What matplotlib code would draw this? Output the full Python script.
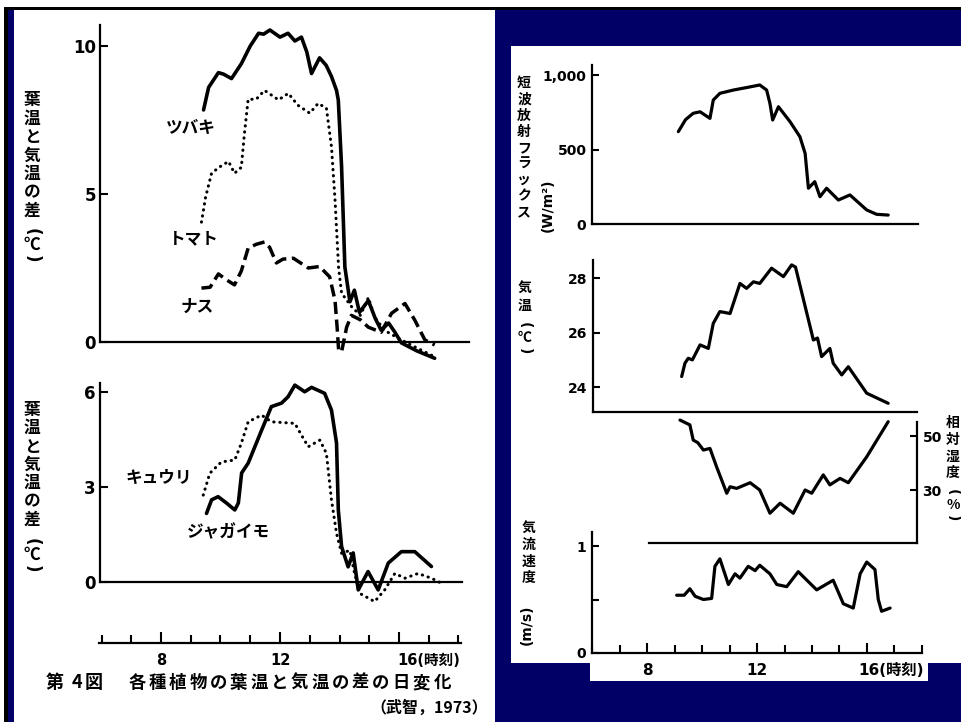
import matplotlib
matplotlib.use('Agg')
import matplotlib.pyplot as plt
from matplotlib.patches import Rectangle
from matplotlib.ticker import FixedLocator

plt.rcParams['font.family'] = ['DejaVu Sans', 'Noto Sans CJK JP']

# ---------------- data ----------------
# Left top: leaf minus air temperature (deg C)
tsubaki_t = [9.43, 9.6, 9.93, 10.1, 10.37, 10.7, 11.0, 11.28, 11.45, 11.66, 12.0, 12.27, 12.5, 12.72,
             12.9, 13.06, 13.33, 13.55, 13.73, 13.9, 13.96, 14.07, 14.18, 14.35, 14.5, 14.67, 14.97,
             15.2, 15.4, 15.65, 15.85, 16.08, 16.6, 17.2]
tsubaki_v = [7.84, 8.6, 9.1, 9.05, 8.9, 9.4, 10.0, 10.43, 10.4, 10.54, 10.3, 10.43, 10.17, 10.3,
             9.8, 9.07, 9.6, 9.35, 8.97, 8.5, 8.17, 5.92, 2.54, 1.36, 1.75, 1.0, 1.4,
             0.8, 0.4, 0.64, 0.35, -0.03, -0.3, -0.55]
tomato_t = [9.36, 9.5, 9.7, 9.95, 10.27, 10.47, 10.7, 10.8, 10.93, 11.2, 11.48, 11.95, 12.28, 12.6,
            13.0, 13.28, 13.56, 13.73, 13.85, 13.97, 14.07, 14.4, 14.7, 14.97, 15.18, 15.5, 16.08,
            16.6, 17.2]
tomato_v = [4.05, 4.9, 5.7, 5.9, 6.1, 5.7, 5.9, 7.0, 8.2, 8.2, 8.5, 8.18, 8.4, 8.0,
            7.73, 8.06, 7.9, 6.6, 4.8, 2.5, 1.65, 1.2, 0.9, 1.5, 0.85, 0.4, 0.07,
            -0.2, -0.5]
nasu_t = [9.36, 9.65, 9.93, 10.2, 10.47, 10.7, 10.93, 11.2, 11.48, 11.65, 11.88, 12.1, 12.45, 12.95,
          13.33, 13.67, 13.85, 13.92, 13.97, 14.07, 14.24, 14.4, 14.7, 14.97, 15.4, 15.75, 16.2,
          16.53, 16.87, 17.2]
nasu_v = [1.82, 1.85, 2.3, 2.1, 1.93, 2.4, 3.17, 3.3, 3.38, 3.2, 2.67, 2.8, 2.83, 2.5,
          2.55, 2.2, 1.4, 0.5, -0.27, -0.33, 0.5, 0.9, 0.75, 0.5, 0.33, 0.97, 1.3,
          0.74, 0.07, -0.1]
top_ticks = [0, 5, 10]

# Left bottom
jaga_t = [9.53, 9.7, 9.92, 10.2, 10.48, 10.6, 10.71, 10.93, 11.38, 11.71, 12.05, 12.27, 12.5, 12.83,
          13.06, 13.5, 13.73, 13.9, 13.96, 14.07, 14.29, 14.46, 14.63, 14.96, 15.3, 15.64, 16.08,
          16.53, 17.09]
jaga_v = [2.17, 2.6, 2.7, 2.5, 2.28, 2.5, 3.45, 3.76, 4.8, 5.55, 5.66, 5.86, 6.23, 6.02,
          6.16, 5.97, 5.44, 4.4, 2.28, 1.12, 0.48, 0.92, -0.25, 0.33, -0.25, 0.6, 0.96,
          0.96, 0.49]
kyuri_t = [9.42, 9.64, 10.03, 10.48, 10.7, 10.93, 11.38, 11.71, 12.5, 12.72, 12.95, 13.34, 13.56,
           13.73, 13.9, 14.07, 14.35, 14.5, 14.68, 15.18, 15.52, 15.86, 16.2, 16.64, 17.09, 17.43]
kyuri_v = [2.75, 3.44, 3.8, 3.86, 4.39, 5.07, 5.28, 5.07, 5.02, 4.65, 4.28, 4.49, 4.07,
           2.6, 1.54, 0.91, 1.0, 0.3, -0.36, -0.62, -0.25, 0.27, 0.12, 0.27, 0.12, -0.04]
bot_ticks = [0, 3, 6]

# Right: shortwave radiation flux (W/m2)
rad_t = [9.14, 9.4, 9.68, 9.93, 10.29, 10.41, 10.65, 11.14, 11.6, 12.1, 12.35, 12.47, 12.57, 12.78,
         13.2, 13.56, 13.75, 13.87, 14.1, 14.29, 14.53, 14.96, 15.38, 15.99, 16.35, 16.77]
rad_v = [620, 700, 743, 753, 709, 832, 877, 899, 915, 933, 899, 810, 698, 787,
         687, 586, 474, 240, 284, 183, 240, 161, 195, 94, 65, 60]
rad_ticks = [0, 500, 1000]
rad_labels = ['0', '500', '1,000']

# Right: air temperature (deg C)
temp_t = [9.26, 9.38, 9.5, 9.65, 9.93, 10.23, 10.41, 10.65, 11.02, 11.38, 11.62, 11.87, 12.1, 12.53,
          12.96, 13.26, 13.4, 14.05, 14.2, 14.35, 14.65, 14.77, 15.08, 15.32, 15.99, 16.77]
temp_v = [24.39, 24.88, 25.06, 25.0, 25.55, 25.42, 26.34, 26.77, 26.7, 27.8, 27.62, 27.86, 27.8, 28.36,
          28.05, 28.48, 28.4, 25.73, 25.8, 25.12, 25.42, 24.88, 24.45, 24.75, 23.78, 23.41]
temp_ticks = [24, 26, 28]

# Right: relative humidity (%)
hum_t = [9.2, 9.56, 9.68, 9.85, 10.05, 10.29, 10.53, 10.9, 11.02, 11.26, 11.75, 12.1, 12.47, 12.84,
         13.32, 13.75, 13.99, 14.41, 14.65, 15.02, 15.32, 15.99, 16.77]
hum_v = [55.9, 54.1, 48.5, 47.5, 44.8, 45.4, 38.6, 28.8, 31.2, 30.6, 32.7, 30.0, 21.4, 25.1,
         21.4, 30.0, 28.8, 35.6, 31.9, 34.3, 32.7, 42.3, 55.3]
hum_ticks = [30, 50]

# Right: wind speed (m/s)
wind_t = [9.08, 9.35, 9.56, 9.75, 10.05, 10.35, 10.47, 10.65, 10.96, 11.2, 11.38, 11.68, 11.93, 12.1,
          12.47, 12.72, 13.08, 13.5, 14.17, 14.77, 15.14, 15.5, 15.75, 15.99, 16.29, 16.41, 16.53, 16.84]
wind_v = [0.54, 0.54, 0.6, 0.53, 0.5, 0.51, 0.81, 0.88, 0.64, 0.74, 0.7, 0.81, 0.77, 0.82,
          0.74, 0.64, 0.62, 0.76, 0.59, 0.68, 0.46, 0.42, 0.74, 0.85, 0.78, 0.5, 0.39, 0.42]
wind_ticks = [0, 0.5, 1]
wind_labels = ['0', '', '1']

hour_major = [8, 12, 16]
hour_minor = [6, 7, 9, 10, 11, 13, 14, 15, 17, 18]

# ---------------- figure ----------------
W, H = 962, 722
NAVY = '#000066'
JP = ['Noto Sans CJK JP']
fig = plt.figure(figsize=(W / 100, H / 100), dpi=100, facecolor=NAVY)


def rect(x0, y0, x1, y1, c):
    fig.add_artist(Rectangle((x0 / W, 1 - y1 / H), (x1 - x0) / W, (y1 - y0) / H,
                             transform=fig.transFigure, facecolor=c, edgecolor='none', zorder=-5))


rect(0, 0, W, 7, 'white')
rect(0, 7, W, 10, 'black')
rect(0, 0, 4, H, 'white')
rect(4, 7, 8, H, 'black')
rect(14, 10, 495, H, 'white')
rect(511, 46, W, 663, 'white')
rect(590, 663, 928, 681, 'white')


def make_ax(px0, px1, py0, py1, xo, sx, yref, vref, sy):
    ax = fig.add_axes([px0 / W, 1 - py1 / H, (px1 - px0) / W, (py1 - py0) / H])
    ax.set_xlim(6 + (px0 - xo) / sx, 6 + (px1 - xo) / sx)
    ax.set_ylim(vref + (yref - py1) / sy, vref + (yref - py0) / sy)
    ax.patch.set_visible(False)
    for s in ax.spines.values():
        s.set_visible(False)
        s.set_linewidth(1.6)
        s.set_color('black')
    ax.set_xticks([])
    ax.set_yticks([])
    return ax


def bold_labels(labels):
    for l in labels:
        l.set_fontweight('bold')


def ftext(x, y, s, **kw):
    return fig.text(x / W, 1 - y / H, s, **kw)


def vtext(x, ys, chars, size, **kw):
    # vertical (tategaki) text: one character per position; brackets turned sideways
    for y, c in zip(ys, chars):
        if c in '()':
            ftext(x, y, c, ha='center', va='center', fontsize=size, family=['DejaVu Sans'],
                  rotation=-90, **kw)
        else:
            ftext(x, y, c, ha='center', va='center', fontsize=size, family=JP, **kw)


def hchars(xs, y, chars, size, **kw):
    for x, c in zip(xs, chars):
        ftext(x, y, c, ha='center', va='center', fontsize=size, family=JP, **kw)


LX0, LSX = 101.5, 29.75
solid = dict(color='black', lw=2.6, solid_joinstyle='round', solid_capstyle='round')
dotted = dict(color='black', lw=2.2, linestyle=(0, (0.1, 1.9)), dash_capstyle='round')
dashed = dict(color='black', lw=2.5, linestyle=(0, (3.5, 1.6)), dash_capstyle='butt')

# ---- left top ----
a1 = make_ax(100, 469, 18, 365, LX0, LSX, 342, 0, 29.6)
a1.spines['left'].set_visible(True)
a1.spines['left'].set_bounds(0, 10.71)
a1.spines['bottom'].set_visible(True)
a1.spines['bottom'].set_position(('data', 0))
a1.set_yticks(top_ticks)
a1.set_yticklabels([str(v) for v in top_ticks])
a1.tick_params(axis='y', direction='in', length=6, width=1.5, labelsize=12, pad=3)
bold_labels(a1.get_yticklabels())
a1.plot(tsubaki_t, tsubaki_v, **solid)
a1.plot(tomato_t, tomato_v, **dotted)
a1.plot(nasu_t, nasu_v, **dashed)
a1.text(9.0, 7.23, 'ツバキ', ha='center', va='center', fontsize=12, family=JP, fontweight='bold')
a1.text(9.1, 3.48, 'トマト', ha='center', va='center', fontsize=12, family=JP, fontweight='bold')
a1.text(9.22, 1.18, 'ナス', ha='center', va='center', fontsize=12, family=JP, fontweight='bold')

# ---- left bottom ----
a2 = make_ax(100, 462, 378, 605, LX0, LSX, 582, 0, 31.6)
a2.spines['left'].set_visible(True)
a2.spines['left'].set_bounds(0, 6.3)
a2.spines['bottom'].set_visible(True)
a2.spines['bottom'].set_position(('data', 0))
a2.set_yticks(bot_ticks)
a2.set_yticklabels([str(v) for v in bot_ticks])
a2.tick_params(axis='y', direction='in', length=6, width=1.5, labelsize=12, pad=3)
bold_labels(a2.get_yticklabels())
a2.plot(kyuri_t, kyuri_v, **dotted)
a2.plot(jaga_t, jaga_v, **solid)
a2.text(7.92, 3.29, 'キュウリ', ha='center', va='center', fontsize=12, family=JP, fontweight='bold')
a2.text(10.25, 1.58, 'ジャガイモ', ha='center', va='center', fontsize=12, family=JP, fontweight='bold')

# ---- left time axis ----
aT = make_ax(99, 461, 600, 643, LX0, LSX, 643, 0, 10)
aT.spines['bottom'].set_visible(True)
aT.set_xticks(hour_major)
aT.set_xticklabels(['8', '12', ''])
aT.xaxis.set_minor_locator(FixedLocator(hour_minor))
aT.tick_params(axis='x', which='major', direction='in', length=8, width=1.5, labelsize=10.5, pad=7)
aT.tick_params(axis='x', which='minor', direction='in', length=6, width=1.5)
bold_labels(aT.get_xticklabels())
aT.annotate('16(時刻)', xy=(16, 0), xycoords=('data', 'axes fraction'), xytext=(-1.5, -7),
            textcoords='offset points', ha='left', va='top', fontsize=10.5, fontweight='bold')

# left labels
yl_chars = ['葉', '温', 'と', '気', '温', 'の', '差', '(', '℃', ')']
vtext(32, [100, 118.5, 137, 155.5, 174, 192.5, 211, 232, 245, 259], yl_chars, 12, fontweight='bold')
vtext(32, [410, 428.3, 446.6, 465, 483.3, 501.6, 520, 542, 555, 569], yl_chars, 12, fontweight='bold')

hchars([55, 77, 94], 683, ['第', '4', '図'], 13, fontweight='bold')
cap = '各種植物の葉温と気温の差の日変化'
hchars([137 + i * (305 / 15) for i in range(len(cap))], 683, list(cap), 12.5, fontweight='bold')
ftext(488, 708, '（武智，1973）', ha='right', va='center', fontsize=11.5, family=JP, fontweight='bold')

# ---- right panels ----
RX0, RSX = 592, 27.5
rsolid = dict(color='black', lw=2.3, solid_joinstyle='round', solid_capstyle='round')

r1 = make_ax(592, 918, 60, 232, RX0, RSX, 224, 0, 0.149)
r1.spines['left'].set_visible(True)
r1.spines['left'].set_bounds(0, 1067)
r1.spines['bottom'].set_visible(True)
r1.spines['bottom'].set_position(('data', 0))
r1.set_yticks(rad_ticks)
r1.set_yticklabels(rad_labels)
r1.tick_params(axis='y', direction='in', length=5, width=1.5, labelsize=10, pad=4)
bold_labels(r1.get_yticklabels())
r1.plot(rad_t, rad_v, **rsolid)

r2 = make_ax(593, 917, 255, 412, RX0, RSX, 278, 28, 27.3)
r2.spines['left'].set_visible(True)
r2.spines['left'].set_bounds(r2.get_ylim()[0], 28.66)
r2.spines['bottom'].set_visible(True)
r2.set_yticks(temp_ticks)
r2.set_yticklabels([str(v) for v in temp_ticks])
r2.tick_params(axis='y', direction='in', length=5, width=1.5, labelsize=10, pad=4)
bold_labels(r2.get_yticklabels())
r2.plot(temp_t, temp_v, **rsolid)

r3 = make_ax(592, 917, 415, 543, RX0, RSX, 490, 30, 2.7)
r3.spines['right'].set_visible(True)
r3.spines['right'].set_bounds(r3.get_ylim()[0], 55.2)
r3.spines['bottom'].set_visible(True)
r3.spines['bottom'].set_bounds(8.07, r3.get_xlim()[1])
r3.yaxis.tick_right()
r3.set_yticks(hum_ticks)
r3.set_yticklabels([str(v) for v in hum_ticks])
r3.tick_params(axis='y', direction='in', length=5, width=1.5, labelsize=10, pad=4)
bold_labels(r3.get_yticklabels())
r3.plot(hum_t, hum_v, **rsolid)

r4 = make_ax(592, 922, 525, 653, RX0, RSX, 653, 0, 107)
r4.spines['left'].set_visible(True)
r4.spines['left'].set_bounds(0, 1.13)
r4.spines['bottom'].set_visible(True)
r4.set_yticks(wind_ticks)
r4.set_yticklabels(wind_labels)
r4.tick_params(axis='y', direction='in', length=5, width=1.5, labelsize=10, pad=4)
bold_labels(r4.get_yticklabels())
r4.set_xticks(hour_major)
r4.set_xticklabels(['8', '12', ''])
r4.xaxis.set_minor_locator(FixedLocator(hour_minor))
r4.tick_params(axis='x', which='major', direction='in', length=7, width=1.5, labelsize=11, pad=7)
r4.tick_params(axis='x', which='minor', direction='in', length=6, width=1.5)
bold_labels(r4.get_xticklabels())
r4.annotate('16(時刻)', xy=(16, 0), xycoords=('data', 'axes fraction'), xytext=(-6.5, -7),
            textcoords='offset points', ha='left', va='top', fontsize=11, fontweight='bold')
r4.plot(wind_t, wind_v, **rsolid)

# right labels
vtext(524, [83, 100, 116, 132, 148, 164, 180, 196, 212], list('短波放射フラックス'), 10, fontweight='bold')
ftext(548, 205, '(W/m²)', rotation=90, ha='center', va='center', fontsize=10, fontweight='bold')
vtext(525, [288, 306, 325, 338, 351], ['気', '温', '(', '℃', ')'], 10, fontweight='bold')
vtext(529, [528, 545, 562, 578], list('気流速度'), 10, fontweight='bold')
ftext(527, 625, '(m/s)', rotation=90, ha='center', va='center', fontsize=10, fontweight='bold')
vtext(953, [423, 440, 457, 473, 492, 505, 518], ['相', '対', '湿', '度', '(', '%', ')'], 10, fontweight='bold')

fig.savefig('out.png', dpi=100, facecolor=NAVY)
